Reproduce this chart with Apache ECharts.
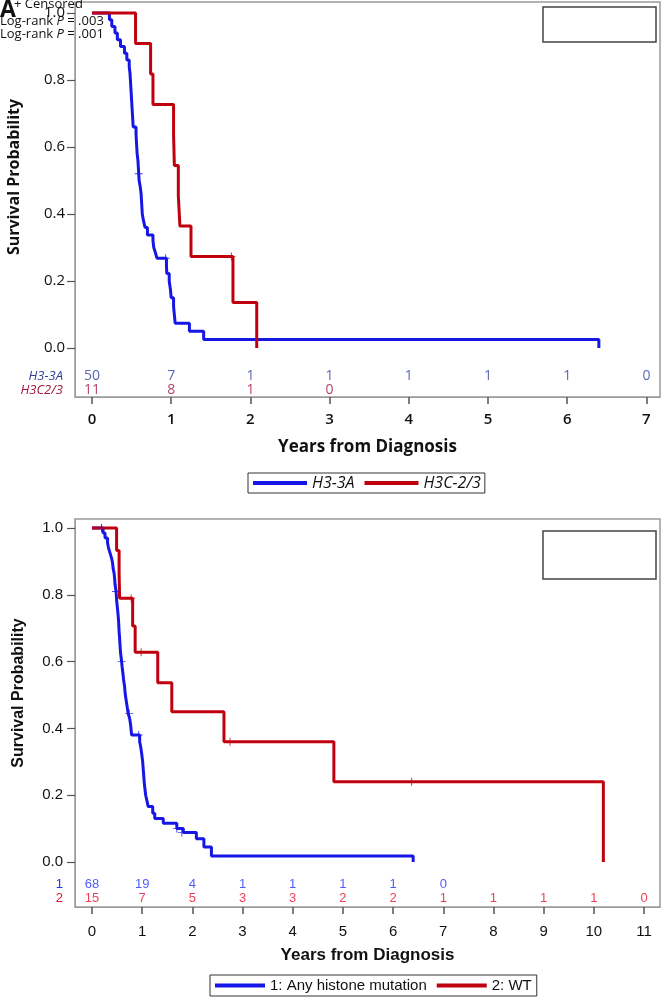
<!DOCTYPE html>
<html><head><meta charset="utf-8">
<script src="https://cdn.jsdelivr.net/npm/echarts@6/dist/echarts.min.js"></script>
<style>html,body{margin:0;padding:0;background:#fff}#c{width:665px;height:1004px}</style>
</head><body><div id="c"></div>
<script>
// ---------- data ----------
const topTicksX = [0,1,2,3,4,5,6,7];
const botTicksX = [0,1,2,3,4,5,6,7,8,9,10,11];
const yTicks = [0,0.2,0.4,0.6,0.8,1.0];

const topNames = ['H3-3A','H3C-2/3'];
const topRowLabels = ['H3-3A','H3C2/3'];
const topBlue = [[0,1],[0.22,0.98],[0.25,0.96],[0.29,0.94],[0.32,0.92],[0.36,0.90],[0.41,0.88],[0.44,0.86],[0.47,0.84],[0.48,0.82],[0.485,0.80],[0.49,0.78],[0.495,0.76],[0.50,0.74],[0.505,0.72],[0.51,0.70],[0.515,0.68],[0.52,0.66],[0.556,0.64],[0.56,0.62],[0.565,0.60],[0.57,0.58],[0.58,0.56],[0.585,0.54],[0.59,0.52],[0.595,0.50],[0.61,0.48],[0.62,0.46],[0.625,0.44],[0.63,0.42],[0.635,0.40],[0.65,0.38],[0.67,0.36],[0.70,0.337],[0.77,0.32],[0.78,0.30],[0.80,0.285],[0.82,0.268],[0.94,0.245],[0.945,0.222],[0.975,0.20],[0.99,0.175],[1.00,0.15],[1.03,0.124],[1.04,0.099],[1.05,0.074],[1.23,0.05],[1.41,0.025],[6.40,0]];
const topRed = [[0,1],[0.55,0.909],[0.74,0.818],[0.77,0.727],[1.03,0.636],[1.04,0.545],[1.09,0.455],[1.11,0.364],[1.25,0.273],[1.78,0.136],[2.08,0]];
const topBlueCens = [[0.59,0.52],[0.93,0.268]];
const topRedCens = [[1.76,0.273]];
const topBlueRisk = [50,7,1,1,1,1,1,0];
const topRedRisk = [11,8,1,0];

const botNames = ['1: Any histone mutation','2: WT'];
const botRowLabels = ['1','2'];
const botBlue = [[0,1],[0.22,0.985],[0.26,0.97],[0.31,0.955],[0.33,0.94],[0.36,0.925],[0.39,0.91],[0.41,0.895],[0.42,0.88],[0.44,0.865],[0.45,0.85],[0.46,0.83],[0.48,0.81],[0.49,0.785],[0.50,0.77],[0.52,0.74],[0.53,0.72],[0.54,0.69],[0.55,0.67],[0.56,0.645],[0.57,0.625],[0.59,0.60],[0.60,0.585],[0.62,0.56],[0.63,0.545],[0.65,0.525],[0.66,0.505],[0.69,0.475],[0.72,0.445],[0.75,0.43],[0.77,0.41],[0.79,0.38],[0.95,0.36],[0.97,0.345],[0.99,0.325],[1.01,0.30],[1.02,0.28],[1.03,0.26],[1.04,0.24],[1.05,0.225],[1.07,0.20],[1.10,0.18],[1.12,0.166],[1.21,0.146],[1.25,0.13],[1.42,0.116],[1.69,0.10],[1.82,0.088],[2.08,0.07],[2.23,0.045],[2.38,0.018],[6.40,0]];
const botRed = [[0,1],[0.49,0.933],[0.54,0.867],[0.55,0.79],[0.81,0.707],[0.86,0.628],[1.31,0.537],[1.59,0.45],[2.63,0.36],[4.82,0.24],[10.19,0]];
const botBlueCens = [[0.19,1.0],[0.48,0.81],[0.59,0.60],[0.74,0.445],[0.93,0.38],[1.69,0.10],[1.79,0.088]];
const botRedCens = [[0.19,1.0],[0.78,0.79],[0.98,0.628],[2.75,0.36],[6.37,0.24]];
const botBlueRisk = [68,19,4,1,1,1,1,0];
const botRedRisk = [15,7,5,3,3,2,2,1,1,1,1,0];

// ---------- styling ----------
const BLUE = '#1616e6', RED = '#c0000f';
const F1 = '"Open Sans", "Noto Sans", sans-serif';
const F2 = '"Liberation Sans", Arial, sans-serif';
const FRAME = '#9a9a9a';
const plus = 'path://M-0.12,-1H0.12V-0.12H1V0.12H0.12V1H-0.12V0.12H-1V-0.12H-0.12Z';

function riskData(arr, ticks, yv){ return arr.map((n,i)=>[ticks[i], yv, n]); }

function lineSeries(name, data, color, gi){
  return {name, type:'line', step:'end', data, xAxisIndex:gi, yAxisIndex:gi, showSymbol:false, symbol:'none',
    lineStyle:{color, width:3}, itemStyle:{color}, animation:false, silent:true, z:3};
}
function censSeries(data, color, gi){
  return {type:'scatter', data, xAxisIndex:gi, yAxisIndex:gi, symbol:plus, symbolSize:8,
    itemStyle:{color}, animation:false, silent:true, z:4};
}
function riskSeries(data, color, gi, font, size){
  return {type:'scatter', data, xAxisIndex:gi, yAxisIndex:gi, symbolSize:1, itemStyle:{color:'rgba(0,0,0,0)'},
    label:{show:true, position:'inside', formatter:p=>String(p.value[2]), color, fontFamily:font, fontSize:size},
    animation:false, silent:true, clip:false};
}
function xAx(gi, min, max, ticks, font, bold, gap, margin){
  return {gridIndex:gi, type:'value', min, max, position:'bottom',
    axisLine:{show:true, onZero:false, lineStyle:{color:FRAME, width:1}},
    axisTick:{show:true, customValues:ticks, length:7, lineStyle:{color:'#555', width:1.5}},
    axisLabel:{customValues:ticks, margin, fontSize:15, fontFamily:font, fontWeight:bold, color:'#111'},
    splitLine:{show:false},
    name:'Years from Diagnosis', nameLocation:'middle', nameGap:gap,
    nameTextStyle:{fontSize:17, fontWeight:'bold', fontFamily:font, color:'#111'}};
}
function yAx(gi, min, max, font, margin){
  return {gridIndex:gi, type:'value', min, max, position:'left',
    axisLine:{show:true, onZero:false, lineStyle:{color:FRAME, width:1}},
    axisTick:{show:true, customValues:yTicks, length:8, lineStyle:{color:'#555', width:1.2}},
    axisLabel:{customValues:yTicks, margin, formatter:v=>v.toFixed(1), fontSize:15, fontFamily:font, color:'#111'},
    splitLine:{show:false}};
}

const chart = echarts.init(document.getElementById('c'), null, {renderer:'canvas'});
chart.setOption({
  animation:false,
  backgroundColor:'#fff',
  grid:[
    {left:75, top:2, width:585, height:395, show:true, borderColor:FRAME, borderWidth:1.5, backgroundColor:'#fff'},
    {left:75, top:519, width:585, height:388, show:true, borderColor:FRAME, borderWidth:1.5, backgroundColor:'#fff'}
  ],
  xAxis:[
    xAx(0, -0.2146, 7.172, topTicksX, F1, 600, 42, 15),
    xAx(1, -0.3388, 11.319, botTicksX, F2, 'normal', 40, 17)
  ],
  yAxis:[
    yAx(0, -0.1463, 1.0328, F1, 10),
    yAx(1, -0.1347, 1.027, F2, 12)
  ],
  legend:[
    {data:topNames, left:248, top:473, icon:'rect', itemWidth:54, itemHeight:4, itemGap:10,
     borderColor:'#333', borderWidth:1, padding:[2,4,2,5], selectedMode:false,
     textStyle:{fontStyle:'italic', fontSize:16, fontFamily:F1, color:'#111'}},
    {data:botNames, left:210, top:975, icon:'rect', itemWidth:50, itemHeight:4, itemGap:10,
     borderColor:'#333', borderWidth:1, padding:[3,5,3,5], selectedMode:false,
     textStyle:{fontSize:15, fontFamily:F2, color:'#111'}}
  ],
  series:[
    lineSeries(topNames[0], topBlue, BLUE, 0),
    lineSeries(topNames[1], topRed, RED, 0),
    censSeries(topBlueCens, BLUE, 0),
    censSeries(topRedCens, RED, 0),
    riskSeries(riskData(topBlueRisk, topTicksX, -0.084), '#2f3f9c', 0, F1, 14),
    riskSeries(riskData(topRedRisk, topTicksX, -0.125), '#a3143c', 0, F1, 14),
    lineSeries(botNames[0], botBlue, BLUE, 1),
    lineSeries(botNames[1], botRed, RED, 1),
    censSeries(botBlueCens, BLUE, 1),
    censSeries(botRedCens, RED, 1),
    riskSeries(riskData(botBlueRisk, botTicksX, -0.066), '#2233ff', 1, F2, 13),
    riskSeries(riskData(botRedRisk, botTicksX, -0.108), '#e8102a', 1, F2, 13)
  ],
  graphic:[
    {type:'text', x:14, y:177, rotation:Math.PI/2, style:{text:'Survival Probability', align:'center', verticalAlign:'middle', font:'bold 16px '+F1, fill:'#111'}},
    {type:'text', x:19, y:693, rotation:Math.PI/2, style:{text:'Survival Probability', align:'center', verticalAlign:'middle', font:'bold 16px '+F2, fill:'#111'}},
    {type:'text', x:63, y:376, style:{text:topRowLabels[0], align:'right', verticalAlign:'middle', font:'italic 13px '+F1, fill:'#2f3f9c'}},
    {type:'text', x:63, y:390, style:{text:topRowLabels[1], align:'right', verticalAlign:'middle', font:'italic 13px '+F1, fill:'#a3143c'}},
    {type:'text', x:63, y:884, style:{text:botRowLabels[0], align:'right', verticalAlign:'middle', font:'13px '+F2, fill:'#2233ff'}},
    {type:'text', x:63, y:898, style:{text:botRowLabels[1], align:'right', verticalAlign:'middle', font:'13px '+F2, fill:'#e8102a'}},
    {type:'rect', shape:{x:543, y:7, width:113, height:35}, style:{fill:'none', stroke:'#444', lineWidth:1.5}},
    {type:'rect', shape:{x:543, y:531, width:113, height:48}, style:{fill:'none', stroke:'#444', lineWidth:1.5}},
    {type:'text', x:14, y:-2, z:10, style:{text:'+ Censored', font:'13px '+F1, fill:'#111'}},
    {type:'text', x:0, y:-1, z:10, style:{text:'A', font:'bold 23px '+F1, fill:'#111'}},
    {type:'text', x:0, y:15, z:10, style:{text:'Log-rank {i|P} = .003', font:'13px '+F1, fill:'#111', rich:{i:{fontStyle:'italic', fontSize:13, fontFamily:F1}}}},
    {type:'text', x:0, y:28, z:10, style:{text:'Log-rank {i|P} = .001', font:'13px '+F1, fill:'#111', rich:{i:{fontStyle:'italic', fontSize:13, fontFamily:F1}}}}
  ]
});
</script></body></html>
